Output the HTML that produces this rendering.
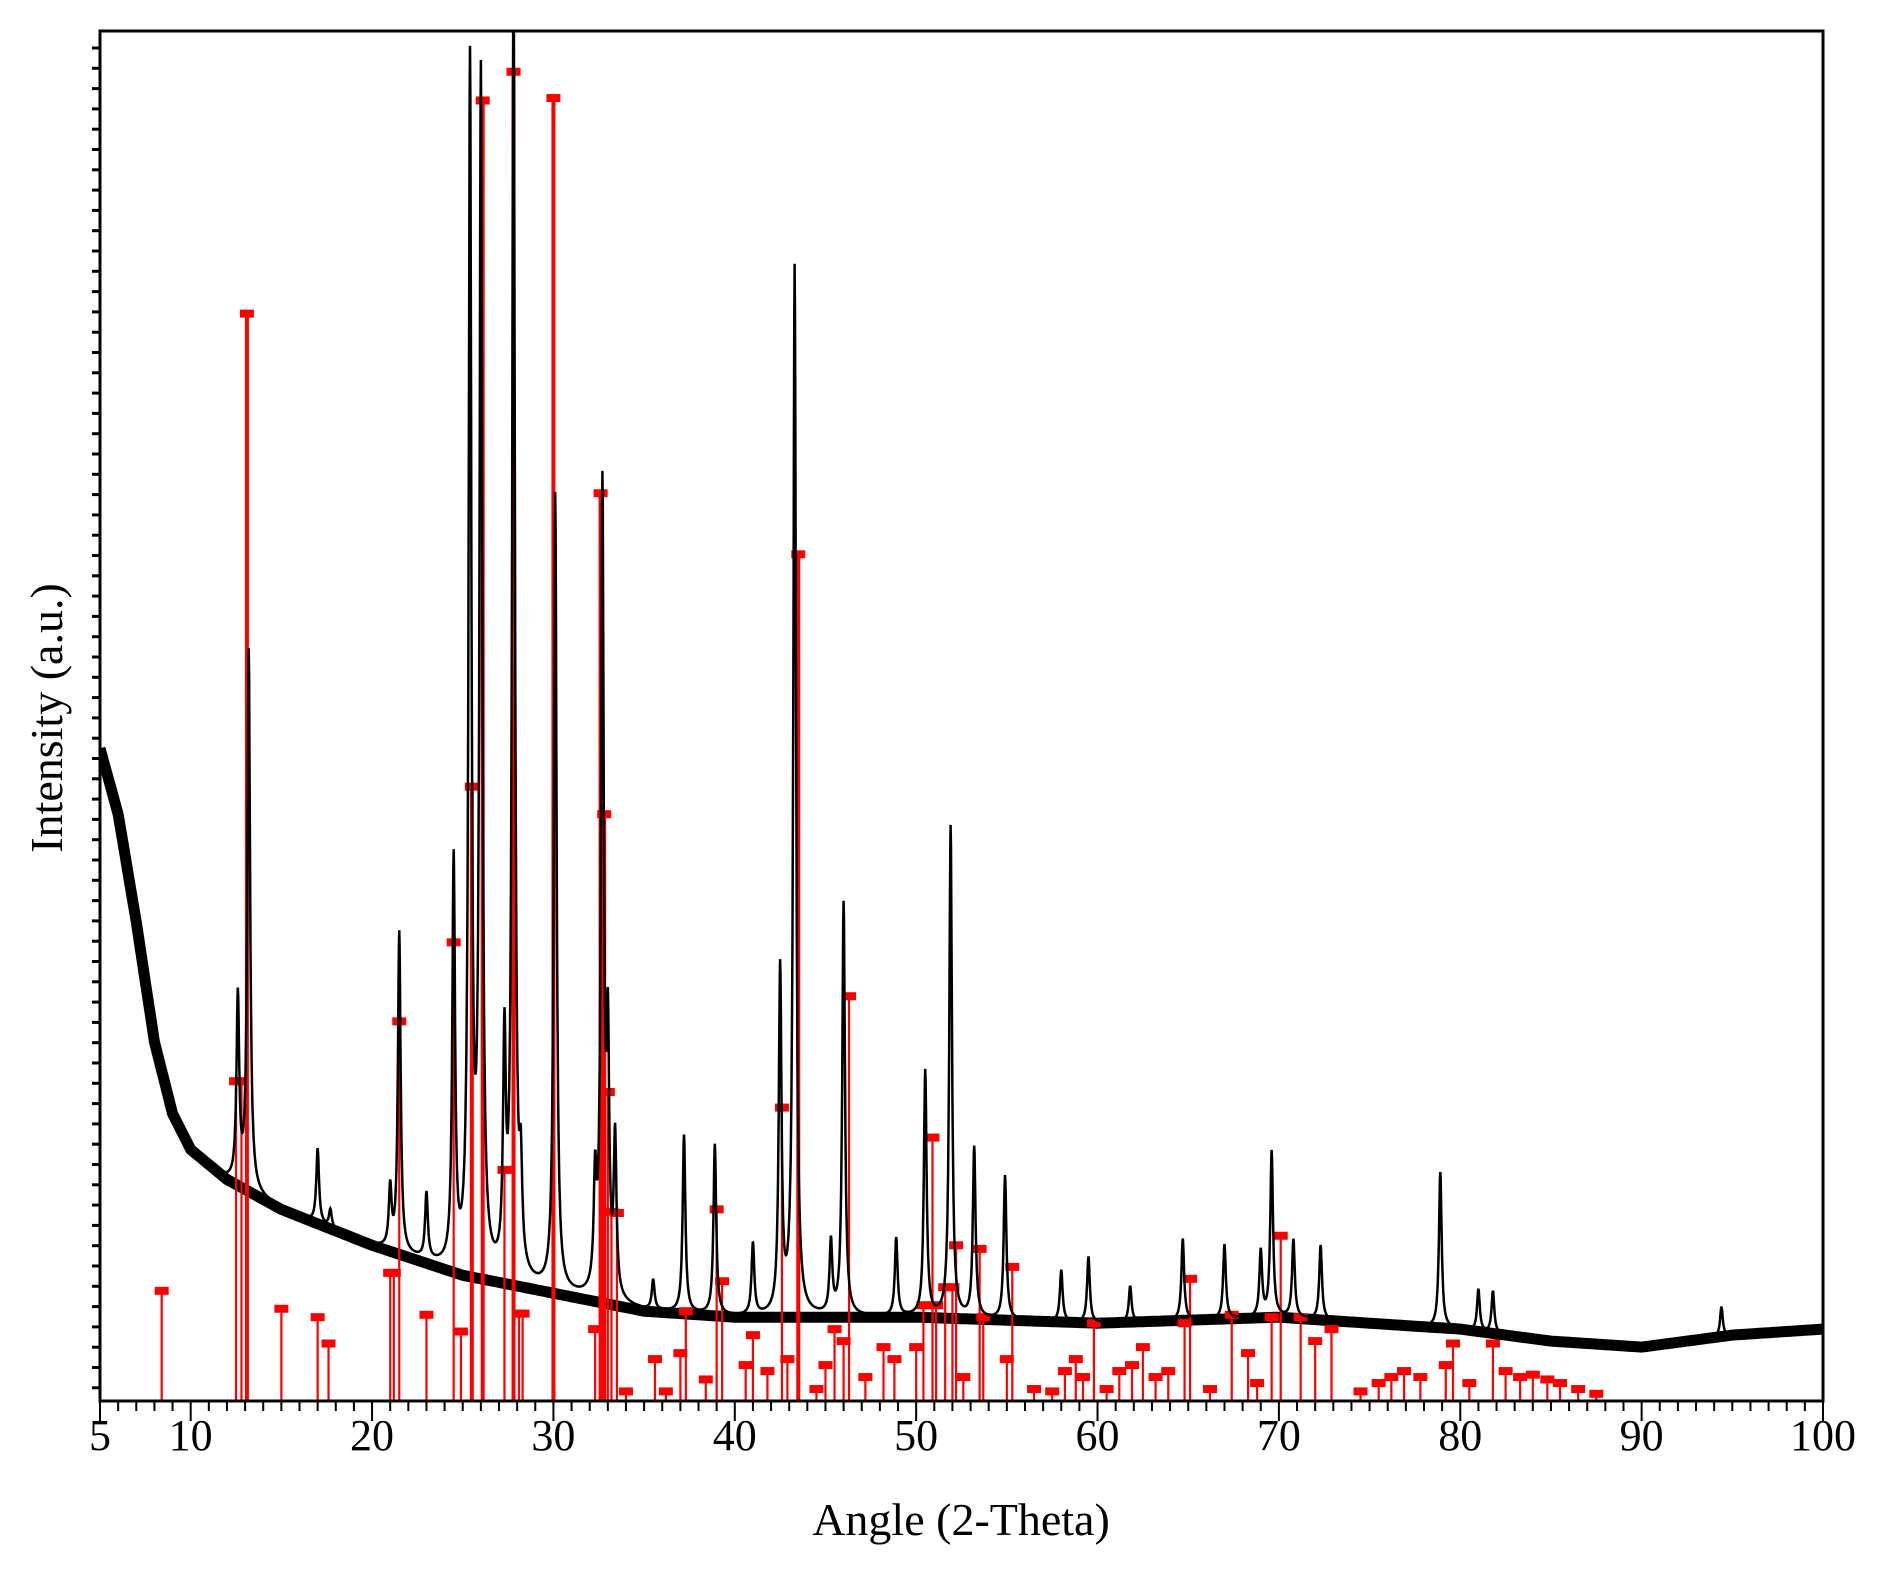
<!DOCTYPE html>
<html><head><meta charset="utf-8"><style>
html,body{margin:0;padding:0;background:#fff;}
svg{display:block;}
text{font-family:"Liberation Serif",serif;fill:#000;}
</style></head><body>
<svg id="chart" width="1877" height="1571" viewBox="0 0 1877 1571" xmlns="http://www.w3.org/2000/svg">
<defs><clipPath id="pc"><rect x="100" y="31" width="1723" height="1370"/></clipPath></defs>
<g id="plot" clip-path="url(#pc)"></g>
<rect x="100" y="31" width="1723" height="1370" fill="none" stroke="#000" stroke-width="3"/>
<g id="axes"></g>
<text x="961" y="1535" font-size="46" text-anchor="middle">Angle (2-Theta)</text>
<text x="0" y="0" font-size="46" text-anchor="middle" transform="translate(62,718) rotate(-90)">Intensity (a.u.)</text>
</svg>
<script>
// background of measured pattern (angle, intensity units)
const bgAngles = [5,6,7,8,9,10,12,15,20,25,30,35,40,50,60,70,80,85,90,95,100];
const bgValues = [545,490,400,300,240,210,185,160,130,105,90,75,70,70,65,70,60,50,45,55,60];
// measured peaks
const peakAngles = [12.6,13.2,17.0,17.7,21.0,21.5,23.0,24.5,25.4,26.0,27.3,27.8,28.2,30.1,32.3,32.7,33.0,33.4,35.5,37.2,38.9,41.0,42.5,43.3,45.3,46.0,48.9,50.5,51.9,53.2,54.9,58.0,59.5,61.8,64.7,67.0,69.0,69.6,70.8,72.3,78.9,81.0,81.8,94.4];
const peakHeights = [155,450,62,15,50,267,55,338,1000,990,187,1100,75,665,88,670,200,130,25,148,142,60,287,875,60,345,65,205,410,142,120,43,55,30,68,62,55,138,65,62,130,35,35,25];
// reference stick pattern
const refAngles = [8.4,12.5,12.8,13.1,15.0,17.0,17.6,21.0,21.2,21.5,23.0,24.5,24.9,25.5,26.1,27.3,27.8,28.1,28.3,30.0,32.3,32.6,32.8,33.0,33.2,33.5,34.0,35.6,36.2,37.0,37.3,38.4,39.0,39.3,40.6,41.0,41.8,42.6,42.9,43.5,44.5,45.0,45.5,46.0,46.3,47.2,48.2,48.8,50.0,50.4,50.9,51.1,51.6,52.0,52.2,52.6,53.5,53.7,55.0,55.3,56.5,57.5,58.2,58.8,59.2,59.8,60.5,61.2,61.9,62.5,63.2,63.9,64.8,65.1,66.2,67.4,68.3,68.8,69.6,70.1,71.2,72.0,72.9,74.5,75.5,76.2,76.9,77.8,79.2,79.6,80.5,81.8,82.5,83.3,84.0,84.8,85.5,86.5,87.5];
const refHeights = [92,267,267,908,77,70,48,107,107,317,72,383,58,513,1086,193,1110,73,73,1088,60,758,490,258,158,157,8,35,8,40,75,18,160,100,30,55,25,245,35,707,10,30,60,50,338,20,45,35,45,80,220,80,95,95,130,20,127,70,35,112,10,8,25,35,20,65,10,25,30,45,20,25,65,102,10,72,40,15,70,138,70,50,60,8,15,20,25,20,30,48,15,48,25,20,22,18,15,10,6];

const X0=100,X1=1823,Y0=1401,Y1=31,YMAX=1144;
const xs=a=>X0+(a-5)*(X1-X0)/95;
const ys=v=>Y0-v*(Y0-Y1)/YMAX;
const NS="http://www.w3.org/2000/svg";
const plot=document.getElementById('plot'), axes=document.getElementById('axes');
function bg(a){for(let i=0;i<bgAngles.length-1;i++){if(a<=bgAngles[i+1]){const t=(a-bgAngles[i])/(bgAngles[i+1]-bgAngles[i]);return bgValues[i]+t*(bgValues[i+1]-bgValues[i]);}}return bgValues[bgValues.length-1];}

// noise band along background
let d='';
for(let a=5;a<=100.001;a+=0.25){d+=(d?'L':'M')+xs(a).toFixed(1)+','+ys(bg(a)).toFixed(1);}
const band=document.createElementNS(NS,'path');
band.setAttribute('d',d);band.setAttribute('fill','none');band.setAttribute('stroke','#000');band.setAttribute('stroke-width','11');band.setAttribute('stroke-linejoin','round');


plot.appendChild(band);

// reference sticks
refAngles.forEach((a,i)=>{
  const x=xs(a),y=ys(refHeights[i]);
  const l=document.createElementNS(NS,'line');
  l.setAttribute('x1',x);l.setAttribute('x2',x);l.setAttribute('y1',Y0);l.setAttribute('y2',y);
  l.setAttribute('stroke','#f00');l.setAttribute('stroke-width',refHeights[i]>400?4:2.2);
  
  
  plot.appendChild(l);
  const r=document.createElementNS(NS,'rect');
  r.setAttribute('x',x-7);r.setAttribute('y',y-4);r.setAttribute('width',14);r.setAttribute('height',8);r.setAttribute('fill','#f00');
  
  
  plot.appendChild(r);
});

// measured pattern
d='';
for(let a=5;a<=100.001;a+=0.02){
  let v=bg(a);
  for(let k=0;k<peakAngles.length;k++){const w=0.09;const u=(a-peakAngles[k])/w;v+=peakHeights[k]/(1+u*u);}
  d+=(d?'L':'M')+xs(a).toFixed(1)+','+ys(v).toFixed(1);
}
const pat=document.createElementNS(NS,'path');
pat.setAttribute('d',d);pat.setAttribute('fill','none');pat.setAttribute('stroke','#000');pat.setAttribute('stroke-width','2.5');


plot.appendChild(pat);

// x ticks
const xTickLabels=[5,10,20,30,40,50,60,70,80,90,100];
for(let a=5;a<=100;a++){
  const major=(a%10===0)||a===5;
  const t=document.createElementNS(NS,'line');
  t.setAttribute('x1',xs(a));t.setAttribute('x2',xs(a));t.setAttribute('y1',Y0);t.setAttribute('y2',Y0+(major?20:10));
  t.setAttribute('stroke','#000');t.setAttribute('stroke-width',2);
  
  
  axes.appendChild(t);
}
xTickLabels.forEach(v=>{
  const t=document.createElementNS(NS,'text');
  t.setAttribute('x',xs(v));t.setAttribute('y',1450);t.setAttribute('font-size','44');t.setAttribute('text-anchor','middle');
  t.textContent=v;
  
  
  axes.appendChild(t);
});
// y ticks
for(let y=48;y<Y0;y+=20.3){
  const t=document.createElementNS(NS,'line');
  t.setAttribute('x1',92);t.setAttribute('x2',100);t.setAttribute('y1',y);t.setAttribute('y2',y);
  t.setAttribute('stroke','#000');t.setAttribute('stroke-width',3);
  
  
  axes.appendChild(t);
}
</script>
</body></html>
